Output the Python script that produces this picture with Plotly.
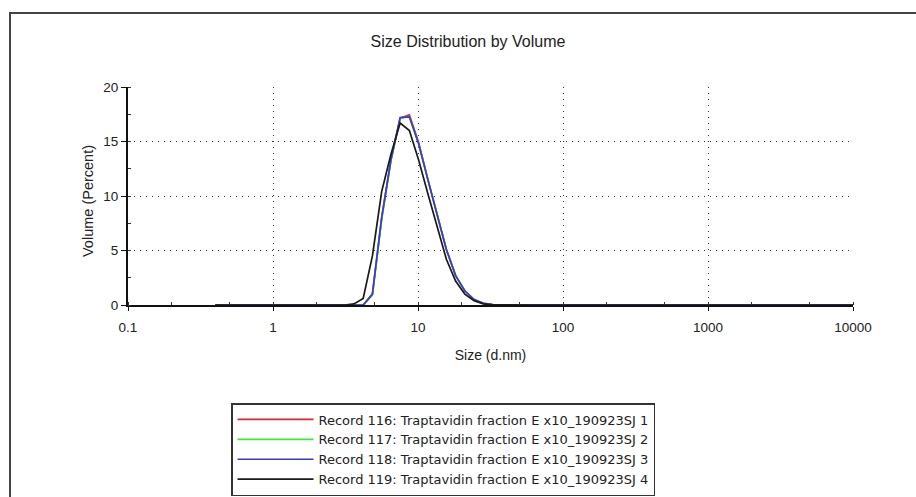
import plotly.graph_objects as go

# Size classes (d.nm)
sizes = [0.4, 0.4632, 0.5365, 0.6213, 0.7195, 0.8332, 0.9650, 1.117, 1.294, 1.499,
         1.736, 2.010, 2.328, 2.696, 3.122, 3.615, 4.187, 4.849, 5.615, 6.503,
         7.531, 8.721, 10.10, 11.70, 13.54, 15.69, 18.17, 21.04, 24.36, 28.21,
         32.67, 37.84, 43.82, 50.75, 58.77, 68.06, 78.82, 91.28, 105.7, 122.4,
         141.8, 164.2, 190.1, 220.2, 255.0, 295.3, 342.0, 396.1, 458.7, 531.2,
         615.1, 712.4, 825.0, 955.4, 1106, 1281, 1484, 1718, 1990, 2305,
         2669, 3091, 3580, 4145, 4801, 5560, 6439, 7456, 8635, 10000]

rec116 = [0, 0, 0, 0, 0, 0, 0, 0, 0, 0,
          0, 0, 0, 0, 0, 0, 0, 1.0, 8.0, 13.3,
          17.15, 17.45, 14.9, 11.5, 8.3, 5.1, 2.7, 1.3, 0.5, 0.15,
          0.04, 0, 0, 0, 0, 0, 0, 0, 0, 0,
          0, 0, 0, 0, 0, 0, 0, 0, 0, 0,
          0, 0, 0, 0, 0, 0, 0, 0, 0, 0,
          0, 0, 0, 0, 0, 0, 0, 0, 0, 0]
rec117 = [0, 0, 0, 0, 0, 0, 0, 0, 0, 0,
          0, 0, 0, 0, 0, 0, 0, 0.9, 7.8, 13.2,
          17.1, 17.3, 14.8, 11.5, 8.3, 5.1, 2.7, 1.3, 0.5, 0.15,
          0.04, 0, 0, 0, 0, 0, 0, 0, 0, 0,
          0, 0, 0, 0, 0, 0, 0, 0, 0, 0,
          0, 0, 0, 0, 0, 0, 0, 0, 0, 0,
          0, 0, 0, 0, 0, 0, 0, 0, 0, 0]
rec118 = [0, 0, 0, 0, 0, 0, 0, 0, 0, 0,
          0, 0, 0, 0, 0, 0, 0, 1.0, 8.0, 13.3,
          17.2, 17.25, 14.8, 11.5, 8.3, 5.1, 2.7, 1.3, 0.5, 0.15,
          0.04, 0, 0, 0, 0, 0, 0, 0, 0, 0,
          0, 0, 0, 0, 0, 0, 0, 0, 0, 0,
          0, 0, 0, 0, 0, 0, 0, 0, 0, 0,
          0, 0, 0, 0, 0, 0, 0, 0, 0, 0]
rec119 = [0, 0, 0, 0, 0, 0, 0, 0, 0, 0,
          0, 0, 0, 0, 0, 0.1, 0.6, 4.5, 10.4, 13.8,
          16.7, 16.0, 13.3, 10.2, 7.1, 4.2, 2.2, 1.0, 0.4, 0.1,
          0.02, 0, 0, 0, 0, 0, 0, 0, 0, 0,
          0, 0, 0, 0, 0, 0, 0, 0, 0, 0,
          0, 0, 0, 0, 0, 0, 0, 0, 0, 0,
          0, 0, 0, 0, 0, 0, 0, 0, 0, 0]

names = ["Record 116: Traptavidin fraction E x10_190923SJ 1",
         "Record 117: Traptavidin fraction E x10_190923SJ 2",
         "Record 118: Traptavidin fraction E x10_190923SJ 3",
         "Record 119: Traptavidin fraction E x10_190923SJ 4"]
series = [rec116, rec117, rec118, rec119]
colors = ["#e8202a", "#3ee83a", "#3a3ad0", "#1a1a1a"]

x_tickvals = [0.1, 1, 10, 100, 1000, 10000]
x_ticktext = ["0.1", "1", "10", "100", "1000", "10000"]
y_tickvals = [0, 5, 10, 15, 20]

FONT = "Arial, Liberation Sans, sans-serif"
TXT = "#222"

fig = go.Figure()
for nm, vals, col in zip(names, series, colors):
    fig.add_trace(go.Scatter(x=sizes, y=vals, mode="lines", name=nm,
                             line=dict(color=col, width=1.7), cliponaxis=False))

W, H = 916, 497
L, R, T, B = 128, 63, 87, 192
pw, ph = W - L - R, H - T - B

def px_x(p):
    return (p - L) / pw

def px_y(p):
    return (H - B - p) / ph

fig.update_layout(
    width=W, height=H,
    margin=dict(l=L, r=R, t=T, b=B, autoexpand=False),
    paper_bgcolor="white", plot_bgcolor="white",
    font=dict(family=FONT, size=13, color=TXT),
    title=dict(text="Size Distribution by Volume", x=468 / W, xref="container",
               xanchor="center", y=1 - 41 / H, yref="container", yanchor="middle",
               font=dict(size=16, color=TXT)),
    showlegend=True,
    legend=dict(x=231 / W, y=1 - 403 / H, xref="container", yref="container",
                xanchor="left", yanchor="top",
                bordercolor="#333", borderwidth=1.5, bgcolor="white",
                font=dict(size=13, color=TXT, family="DejaVu Sans, sans-serif"),
                itemwidth=76, tracegroupgap=0),
)

GRID = dict(showgrid=True, gridcolor="#333", griddash="1px,5px", gridwidth=1)

fig.update_xaxes(type="log", range=[-1, 4],
                 tickvals=x_tickvals, ticktext=x_ticktext,
                 showline=True, linecolor="#111", linewidth=2,
                 ticks="outside", ticklen=4, tickcolor="#111",
                 ticklabelstandoff=5,
                 tickfont=dict(size=13.5, color=TXT),
                 zeroline=False, **GRID,
                 minor=dict(ticks="inside", ticklen=3, tickcolor="#333", showgrid=False),
                 title=dict(text="Size (d.nm)", font=dict(size=14, color=TXT),
                            standoff=16))
fig.update_yaxes(range=[0, 20], tickvals=y_tickvals,
                 showline=True, linecolor="#111", linewidth=2,
                 ticks="outside", ticklen=5, tickcolor="#111",
                 tickfont=dict(size=13.5, color=TXT),
                 zeroline=False, **GRID,
                 minor=dict(dtick=2.5, ticks="inside", ticklen=3, tickcolor="#333",
                            showgrid=False))

# y-axis title
fig.add_annotation(text="Volume (Percent)", xref="paper", yref="paper",
                   x=px_x(88), y=px_y(201), textangle=-90, showarrow=False,
                   xanchor="center", yanchor="middle",
                   font=dict(size=14.5, color=TXT, family=FONT))

# outer page frame
fig.add_shape(type="rect", xref="paper", yref="paper",
              x0=px_x(10), x1=px_x(925), y0=px_y(13), y1=px_y(510),
              line=dict(color="#444", width=2), fillcolor="rgba(0,0,0,0)", layer="below")

fig.write_html("out.html")
